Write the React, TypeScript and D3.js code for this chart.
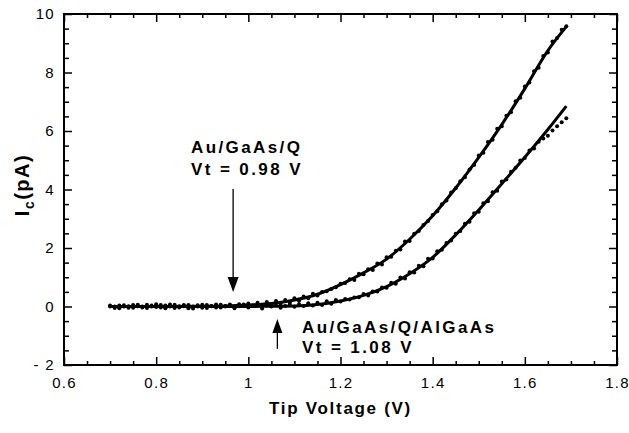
import { useEffect, useRef } from "react";
import * as d3 from "d3";

// tip voltage sweep (V)
const voltage = [
  0.70, 0.71, 0.72, 0.73, 0.74, 0.75, 0.76, 0.77, 0.78, 0.79,
  0.80, 0.81, 0.82, 0.83, 0.84, 0.85, 0.86, 0.87, 0.88, 0.89,
  0.90, 0.91, 0.92, 0.93, 0.94, 0.95, 0.96, 0.97, 0.98, 0.99,
  1.00, 1.01, 1.02, 1.03, 1.04, 1.05, 1.06, 1.07, 1.08, 1.09,
  1.10, 1.11, 1.12, 1.13, 1.14, 1.15, 1.16, 1.17, 1.18, 1.19,
  1.20, 1.21, 1.22, 1.23, 1.24, 1.25, 1.26, 1.27, 1.28, 1.29,
  1.30, 1.31, 1.32, 1.33, 1.34, 1.35, 1.36, 1.37, 1.38, 1.39,
  1.40, 1.41, 1.42, 1.43, 1.44, 1.45, 1.46, 1.47, 1.48, 1.49,
  1.50, 1.51, 1.52, 1.53, 1.54, 1.55, 1.56, 1.57, 1.58, 1.59,
  1.60, 1.61, 1.62, 1.63, 1.64, 1.65, 1.66, 1.67, 1.68, 1.69,
];

// Au/GaAs/Q collector current (pA)
const currentGaAsQ = [
  0.00, -0.05, 0.03, 0.00, -0.04, 0.05, 0.01, -0.03, 0.06, 0.00,
  0.08, -0.03, 0.03, 0.07, -0.05, 0.01, 0.05, -0.06, 0.00, 0.04,
  -0.04, 0.05, 0.01, -0.03, 0.06, 0.02, 0.07, 0.00, 0.08, 0.03,
  0.10, 0.03, 0.13, 0.04, 0.15, 0.07, 0.19, 0.10, 0.22, 0.14,
  0.28, 0.20, 0.34, 0.28, 0.44, 0.38, 0.50, 0.52, 0.60, 0.66,
  0.78, 0.80, 0.93, 0.91, 1.12, 1.10, 1.27, 1.25, 1.47, 1.44,
  1.68, 1.70, 1.91, 1.95, 2.22, 2.24, 2.49, 2.58, 2.79, 2.92,
  3.13, 3.26, 3.50, 3.62, 3.90, 4.04, 4.28, 4.42, 4.68, 4.84,
  5.16, 5.26, 5.62, 5.70, 6.08, 6.16, 6.52, 6.64, 7.02, 7.14,
  7.52, 7.66, 8.04, 8.16, 8.56, 8.68, 9.06, 9.18, 9.46, 9.58,
];

// Au/GaAs/Q/AlGaAs collector current (pA)
const currentAlGaAs = [
  0.03, 0.00, -0.06, 0.04, 0.01, -0.04, 0.06, 0.00, -0.05, 0.03,
  -0.02, 0.05, -0.06, 0.00, 0.06, -0.03, 0.01, 0.05, -0.07, 0.00,
  0.06, -0.05, 0.02, 0.07, -0.03, 0.00, 0.04, -0.06, 0.01, 0.07,
  -0.03, 0.02, 0.08, -0.07, 0.04, 0.00, 0.10, -0.04, 0.02, 0.06,
  -0.01, 0.08, 0.02, 0.11, 0.03, 0.13, 0.05, 0.18, 0.09, 0.22,
  0.17, 0.26, 0.24, 0.31, 0.32, 0.43, 0.38, 0.51, 0.51, 0.65,
  0.64, 0.81, 0.78, 0.99, 0.96, 1.17, 1.16, 1.39, 1.38, 1.63,
  1.64, 1.89, 1.94, 2.17, 2.26, 2.49, 2.58, 2.83, 2.90, 3.19,
  3.24, 3.53, 3.60, 3.91, 3.96, 4.27, 4.34, 4.61, 4.74, 4.99,
  5.08, 5.33, 5.40, 5.63, 5.74, 5.84, 6.02, 6.16, 6.30, 6.44,
];

// fitted curves
const fitVoltageQ = [0.70, 0.80, 0.90, 0.95, 1.00, 1.05, 1.10, 1.15, 1.20, 1.25, 1.30, 1.35, 1.40, 1.45, 1.50, 1.55, 1.60, 1.65, 1.69];
const fitCurrentQ = [0, 0, 0.01, 0.02, 0.05, 0.10, 0.22, 0.42, 0.75, 1.15, 1.62, 2.30, 3.10, 4.05, 5.10, 6.22, 7.45, 8.75, 9.57];
const fitVoltageAl = [0.70, 0.80, 0.90, 1.00, 1.05, 1.10, 1.15, 1.20, 1.25, 1.30, 1.35, 1.40, 1.45, 1.50, 1.55, 1.60, 1.65, 1.69];
const fitCurrentAl = [0, 0, 0, 0, 0.01, 0.02, 0.07, 0.19, 0.38, 0.68, 1.12, 1.68, 2.45, 3.30, 4.20, 5.10, 6.05, 6.85];

const xTicks = [0.6, 0.8, 1, 1.2, 1.4, 1.6, 1.8];
const xTickLabels = ["0.6", "0.8", "1", "1.2", "1.4", "1.6", "1.8"];
const yTicks = [-2, 0, 2, 4, 6, 8, 10];
const yTickLabels = ["- 2", "0", "2", "4", "6", "8", "10"];

const FONT = "'Liberation Sans', Arial, Helvetica, sans-serif";

const App = () => {
  const svgRef = useRef<SVGSVGElement>(null);

  useEffect(() => {
    const width = 629, height = 433;
    const left = 64, right = 617, top = 14, bottom = 365;

    const svg = d3.select(svgRef.current);
    svg.selectAll("*").remove();
    svg.attr("width", width).attr("height", height);

    svg.append("rect").attr("width", width).attr("height", height).attr("fill", "#fff");

    const x = d3.scaleLinear().domain([0.6, 1.8]).range([left, right]);
    const y = d3.scaleLinear().domain([-2, 10]).range([bottom, top]);

    const xMinor = d3.range(0.6, 1.8001, 0.05).filter(v => Math.abs(v * 5 - Math.round(v * 5)) > 1e-6);
    const yMinor = d3.range(-2, 10.001, 0.5).filter(v => Math.abs(v / 2 - Math.round(v / 2)) > 1e-6);

    const styleAxis = (g: any) => {
      g.select(".domain").remove();
      g.selectAll("line").attr("stroke", "#000").attr("stroke-width", 1.5);
      g.selectAll("text")
        .attr("font-family", FONT)
        .attr("font-size", 15)
        .attr("letter-spacing", 1.3)
        .attr("fill", "#000");
    };

    // bottom
    svg.append("g").attr("transform", `translate(0,${bottom})`)
      .call(d3.axisBottom(x).tickValues(xTicks).tickSize(-8).tickPadding(12)
        .tickFormat((d, i) => xTickLabels[i]))
      .call(styleAxis);
    svg.append("g").attr("transform", `translate(0,${bottom})`)
      .call(d3.axisBottom(x).tickValues(xMinor).tickSize(-4).tickFormat(() => ""))
      .call(styleAxis);
    // top
    svg.append("g").attr("transform", `translate(0,${top})`)
      .call(d3.axisTop(x).tickValues(xTicks).tickSize(-8).tickFormat(() => ""))
      .call(styleAxis);
    svg.append("g").attr("transform", `translate(0,${top})`)
      .call(d3.axisTop(x).tickValues(xMinor).tickSize(-4).tickFormat(() => ""))
      .call(styleAxis);
    // left
    svg.append("g").attr("transform", `translate(${left},0)`)
      .call(d3.axisLeft(y).tickValues(yTicks).tickSize(-8).tickPadding(9)
        .tickFormat((d, i) => yTickLabels[i]))
      .call(styleAxis);
    svg.append("g").attr("transform", `translate(${left},0)`)
      .call(d3.axisLeft(y).tickValues(yMinor).tickSize(-5).tickFormat(() => ""))
      .call(styleAxis);
    // right
    svg.append("g").attr("transform", `translate(${right},0)`)
      .call(d3.axisRight(y).tickValues(yTicks).tickSize(-8).tickFormat(() => ""))
      .call(styleAxis);
    svg.append("g").attr("transform", `translate(${right},0)`)
      .call(d3.axisRight(y).tickValues(yMinor).tickSize(-5).tickFormat(() => ""))
      .call(styleAxis);

    // frame
    svg.append("rect")
      .attr("x", left).attr("y", top)
      .attr("width", right - left).attr("height", bottom - top)
      .attr("fill", "none").attr("stroke", "#000").attr("stroke-width", 2);

    // fit lines
    const line = d3.line<[number, number]>()
      .x(d => x(d[0])).y(d => y(d[1]))
      .curve(d3.curveMonotoneX);

    const fitQ = fitVoltageQ.map((v, i) => [v, fitCurrentQ[i]] as [number, number]);
    const fitAl = fitVoltageAl.map((v, i) => [v, fitCurrentAl[i]] as [number, number]);

    [fitQ, fitAl].forEach(f => {
      svg.append("path").attr("d", line(f))
        .attr("fill", "none").attr("stroke", "#000").attr("stroke-width", 3);
    });

    // data points
    const pts = [
      ...voltage.map((v, i) => [v, currentGaAsQ[i]]),
      ...voltage.map((v, i) => [v, currentAlGaAs[i]]),
    ];
    svg.append("g").selectAll("circle")
      .data(pts)
      .enter()
      .append("circle")
      .attr("cx", d => x(d[0]))
      .attr("cy", d => y(d[1]))
      .attr("r", 2)
      .attr("fill", "#000");

    // annotations
    const label = (tx: number, ty: number, txt: string) =>
      svg.append("text").attr("x", tx).attr("y", ty)
        .attr("font-family", FONT).attr("font-size", 17)
        .attr("font-weight", "bold").attr("letter-spacing", 2.4)
        .attr("fill", "#000").text(txt);

    label(191, 153, "Au/GaAs/Q");
    label(191, 175, "Vt = 0.98 V");
    label(302, 333, "Au/GaAs/Q/AlGaAs");
    label(302, 353, "Vt = 1.08 V");

    // down arrow
    const ax1 = x(0.967), ay1Top = y(4.02), ay1Tip = y(0.5);
    svg.append("line").attr("x1", ax1).attr("x2", ax1)
      .attr("y1", ay1Top).attr("y2", ay1Tip - 10)
      .attr("stroke", "#000").attr("stroke-width", 1.3);
    svg.append("path")
      .attr("d", `M${ax1 - 5.5},${ay1Tip - 15} L${ax1 + 5.5},${ay1Tip - 15} L${ax1},${ay1Tip} Z`)
      .attr("fill", "#000");

    // up arrow
    const ax2 = x(1.063), ay2Tip = y(-0.43), ay2Bot = y(-1.45);
    svg.append("line").attr("x1", ax2).attr("x2", ax2)
      .attr("y1", ay2Tip + 10).attr("y2", ay2Bot)
      .attr("stroke", "#000").attr("stroke-width", 1.3);
    svg.append("path")
      .attr("d", `M${ax2 - 5},${ay2Tip + 14} L${ax2 + 5},${ay2Tip + 14} L${ax2},${ay2Tip} Z`)
      .attr("fill", "#000");

    // axis titles
    svg.append("text")
      .attr("x", (left + right) / 2).attr("y", 414)
      .attr("text-anchor", "middle")
      .attr("font-family", FONT).attr("font-size", 17)
      .attr("font-weight", "bold").attr("letter-spacing", 1.7)
      .text("Tip Voltage (V)");

    const yt = svg.append("text")
      .attr("transform", "translate(29,185) rotate(-90)")
      .attr("text-anchor", "middle")
      .attr("font-family", FONT).attr("font-size", 20)
      .attr("font-weight", "bold").attr("letter-spacing", 1.5);
    yt.append("tspan").text("I");
    yt.append("tspan").attr("dy", 5).attr("font-size", 14).text("c");
    yt.append("tspan").attr("dy", -5).text("(pA)");
  }, []);

  return <svg ref={svgRef} style={{ position: "absolute", left: 0, top: 0 }} />;
};

export default App;
